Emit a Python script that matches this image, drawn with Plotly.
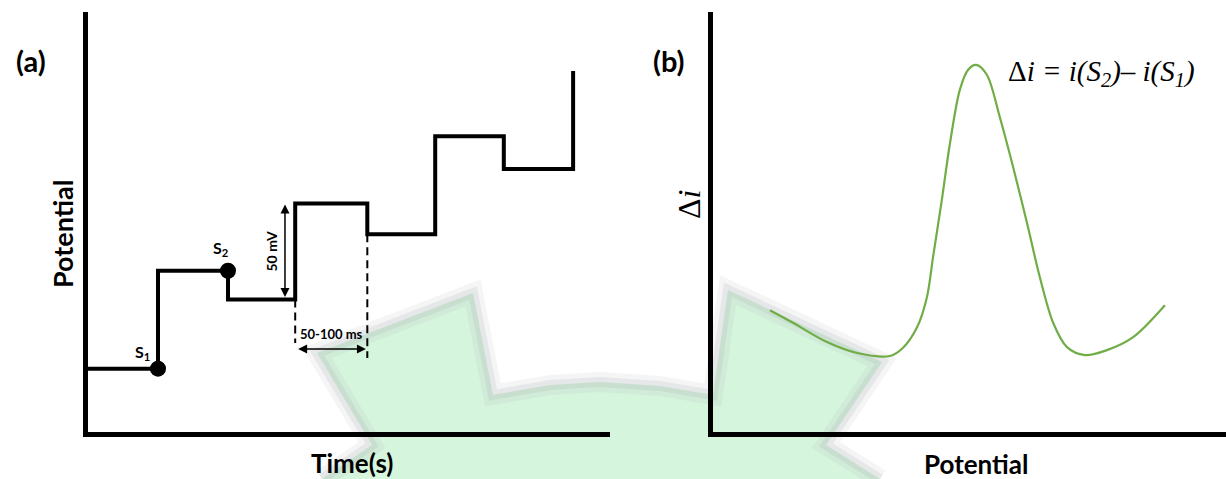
import plotly.graph_objects as go

W, H = 1226, 479

# ---- (a) differential pulse waveform ----
step_time = [0.0, 1.0, 2.0, 2.96, 3.99, 4.96, 5.94, 6.93]
step_potential = [33, 84, 69, 119, 103, 154, 137, 188]
sample_time = [1.0, 2.0]
sample_potential = [33, 84]
sample_labels = ["S<sub>1</sub>", "S<sub>2</sub>"]

pulse_start, pulse_end = 2.96, 3.99
pulse_low, pulse_high = 69, 119
pulse_tail_low = 103
time_axis_max = 7.457
potential_axis_max = 218.75

# ---- (b) differential pulse voltammogram ----
dpv_potential = [0.111, 0.156, 0.222, 0.281, 0.345, 0.370, 0.398, 0.417, 0.429,
                 0.446, 0.462, 0.481, 0.497, 0.513, 0.534, 0.559, 0.585, 0.612,
                 0.637, 0.663, 0.690, 0.725, 0.768, 0.819, 0.881]
dpv_current = [0.290, 0.260, 0.214, 0.188, 0.181, 0.200, 0.250, 0.321, 0.417,
               0.552, 0.688, 0.814, 0.862, 0.874, 0.850, 0.750, 0.631, 0.498,
               0.369, 0.260, 0.202, 0.183, 0.195, 0.226, 0.302]

# background emblem outline (pixel positions on the page)
emblem_outline = [(322, 479), (372, 445), (317, 353), (473, 293), (493, 395),
                  (550, 385), (600, 382), (660, 386), (713, 395), (728, 290),
                  (882, 362), (826, 445), (880, 479)]


def px(x):
    return x / W


def py(y):
    return 1 - y / H


fig = go.Figure()

fig.add_trace(go.Scatter(
    x=step_time, y=step_potential, mode="lines", line_shape="hv",
    line=dict(color="black", width=4), xaxis="x", yaxis="y", showlegend=False,
    hoverinfo="skip"))
fig.add_trace(go.Scatter(
    x=sample_time, y=sample_potential, mode="markers",
    marker=dict(color="black", size=16), xaxis="x", yaxis="y",
    showlegend=False, hoverinfo="skip"))

fig.add_trace(go.Scatter(
    x=dpv_potential, y=dpv_current, mode="lines", line_shape="spline",
    line=dict(color="#70ad47", width=2.2, smoothing=0.9), xaxis="x2",
    yaxis="y2", showlegend=False, hoverinfo="skip"))

ydom = [py(432), py(12)]
axis_common = dict(showgrid=False, zeroline=False, showticklabels=False,
                   ticks="", showline=True, linecolor="black", linewidth=4.5)

shapes = []
# emblem in the background
path = "M " + " L ".join(f"{px(x):.5f},{py(y):.5f}" for x, y in emblem_outline) + " Z"
shapes.append(dict(type="path", path=path, xref="paper", yref="paper",
                   fillcolor="#d5f5dd", line=dict(color="rgba(0,0,0,0)", width=0),
                   layer="below"))
open_path = "M " + " L ".join(f"{px(x):.5f},{py(y):.5f}" for x, y in emblem_outline)
shapes.append(dict(type="path", path=open_path, xref="paper", yref="paper",
                   line=dict(color="rgba(170,175,178,0.12)", width=20),
                   layer="below"))
shapes.append(dict(type="path", path=open_path, xref="paper", yref="paper",
                   line=dict(color="rgba(170,175,178,0.2)", width=10),
                   layer="below"))

# dashed guides marking the pulse width
shapes.append(dict(type="line", xref="x", yref="y", x0=pulse_start, x1=pulse_start,
                   y0=pulse_low, y1=46.4, line=dict(color="black", width=2, dash="8px,5px")))
shapes.append(dict(type="line", xref="x", yref="y", x0=pulse_end, x1=pulse_end,
                   y0=pulse_tail_low, y1=38.5, line=dict(color="black", width=2, dash="8px,5px")))

annotations = []
# double-headed arrows
arrow_style = dict(showarrow=True, arrowhead=2, startarrowhead=2, arrowside="end+start",
                   arrowsize=1.2, startarrowsize=1.2, arrowwidth=1.5, arrowcolor="black",
                   text="", axref="x", ayref="y", xref="x", yref="y")
annotations.append(dict(x=2.814, y=pulse_high - 0.5, ax=2.814, ay=pulse_low + 0.5, **arrow_style))
annotations.append(dict(x=pulse_end - 0.02, y=43.2, ax=pulse_start + 0.02, ay=43.2, **arrow_style))

bold = dict(family="Lato, Open Sans, sans-serif", color="black")
center = dict(xanchor="center", yanchor="middle", showarrow=False)
annotations.append(dict(x=2.814, y=(pulse_low + pulse_high) / 2, xref="x", yref="y",
                        text="<b>50 mV</b>", textangle=-90, xshift=-13,
                        font=dict(size=14, **bold), **center))
annotations.append(dict(x=(pulse_start + pulse_end) / 2, y=43.2, xref="x", yref="y",
                        text="<b>50-100 ms</b>", yshift=15,
                        font=dict(size=13, **bold), **center))
for t, e, lab, dx, dy in zip(sample_time, sample_potential, sample_labels, [-16, -8], [16, 22]):
    annotations.append(dict(x=t, y=e, xref="x", yref="y", text=f"<b>{lab}</b>",
                            xshift=dx, yshift=dy, font=dict(size=16, **bold), **center))

serif = dict(family="Liberation Serif, Times New Roman, serif", color="black")
page_labels = [
    dict(x=px(31), y=py(61), text="<b>(a)</b>", font=dict(size=29, **bold)),
    dict(x=px(62), y=py(234), text="<b>Potential</b>", textangle=-90, font=dict(size=27, **bold)),
    dict(x=px(352), y=py(463), text="<b>Time(s)</b>", font=dict(size=26, **bold)),
    dict(x=px(669), y=py(61), text="<b>(b)</b>", font=dict(size=29, **bold)),
    dict(x=px(976), y=py(464), text="<b>Potential</b>", font=dict(size=26, **bold)),
    dict(x=px(689), y=py(205), text="Δ<i>i</i>", textangle=-90, font=dict(size=32, **serif)),
    dict(x=px(1101), y=py(73),
         text="Δ<i>i = i(S<sub>2</sub>)– i(S<sub>1</sub>)</i>",
         font=dict(size=29, **serif)),
]
for a in page_labels:
    a.update(xref="paper", yref="paper", **center)
annotations += page_labels

fig.update_layout(
    width=W, height=H, margin=dict(l=0, r=0, t=0, b=0),
    paper_bgcolor="white", plot_bgcolor="rgba(0,0,0,0)",
    xaxis=dict(domain=[px(88), px(610)], range=[0, time_axis_max], anchor="y", **axis_common),
    yaxis=dict(domain=ydom, range=[0, potential_axis_max], anchor="x", **axis_common),
    xaxis2=dict(domain=[px(713), 1.0], range=[0, 1], anchor="y2", **axis_common),
    yaxis2=dict(domain=ydom, range=[0, 1], anchor="x2", **axis_common),
    shapes=shapes, annotations=annotations,
)

fig.write_html("out.html")
